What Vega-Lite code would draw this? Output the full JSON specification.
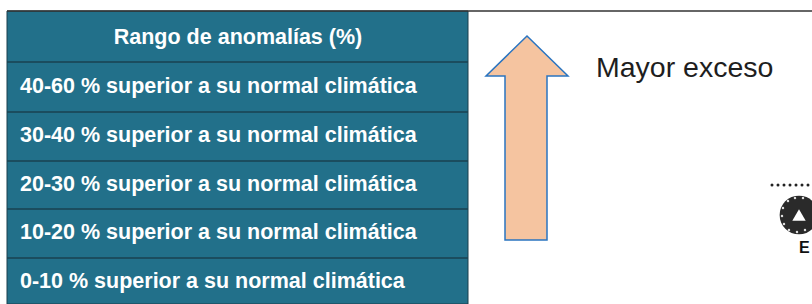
{
  "$schema": "https://vega.github.io/schema/vega-lite/v6.json",
  "width": 812,
  "height": 304,
  "autosize": {"type": "none"},
  "padding": 0,
  "background": "white",
  "view": {"stroke": null},
  "datasets": {
    "table": [{"x": 7, "x2": 468, "y": 11, "y2": 304}],
    "seps": [
      {"x": 7, "x2": 468, "y": 62},
      {"x": 7, "x2": 468, "y": 112},
      {"x": 7, "x2": 468, "y": 161},
      {"x": 7, "x2": 468, "y": 209},
      {"x": 7, "x2": 468, "y": 258}
    ],
    "border": [{"x": 7, "x2": 812, "y": 11}],
    "header": [{"x": 238, "y": 38, "label": "Rango de anomalías (%)"}],
    "rows": [
      {"x": 20, "y": 87, "label": "40-60 % superior a su normal climática"},
      {"x": 20, "y": 136, "label": "30-40 % superior a su normal climática"},
      {"x": 20, "y": 185, "label": "20-30 % superior a su normal climática"},
      {"x": 20, "y": 233, "label": "10-20 % superior a su normal climática"},
      {"x": 20, "y": 282, "label": "0-10 % superior a su normal climática"}
    ],
    "arrow": [
      {"y": 36, "x": 527, "x2": 527},
      {"y": 76, "x": 486, "x2": 568},
      {"y": 76, "x": 505, "x2": 547},
      {"y": 240, "x": 505, "x2": 547}
    ],
    "note": [{"x": 596, "y": 77, "label": "Mayor exceso"}],
    "dots": [
      {"x": 772, "y": 185}, {"x": 778, "y": 185}, {"x": 784, "y": 185},
      {"x": 790, "y": 185}, {"x": 796, "y": 185}, {"x": 802, "y": 185}, {"x": 808, "y": 185}
    ],
    "logo": [{"x": 799, "y": 215}],
    "ring": [
      {"x": 783, "y": 208}, {"x": 782, "y": 216}, {"x": 784, "y": 224}, {"x": 789, "y": 230},
      {"x": 797, "y": 232}, {"x": 805, "y": 230}, {"x": 788, "y": 201}, {"x": 795, "y": 198}, {"x": 803, "y": 198}
    ],
    "logoE": [{"x": 799, "y": 253, "label": "E"}]
  },
  "layer": [
    {
      "data": {"name": "table"},
      "mark": {"type": "rect", "fill": "#22708A", "stroke": "#1b3f4c", "strokeWidth": 1},
      "encoding": {
        "x": {"field": "x", "type": "quantitative", "scale": {"domain": [0, 812], "nice": false, "zero": false}, "axis": null},
        "x2": {"field": "x2"},
        "y": {"field": "y", "type": "quantitative", "scale": {"domain": [0, 304], "reverse": true, "nice": false, "zero": false}, "axis": null},
        "y2": {"field": "y2"}
      }
    },
    {
      "data": {"name": "seps"},
      "mark": {"type": "rule", "color": "#1a4250", "strokeWidth": 1.5},
      "encoding": {
        "x": {"field": "x", "type": "quantitative"},
        "x2": {"field": "x2"},
        "y": {"field": "y", "type": "quantitative"}
      }
    },
    {
      "data": {"name": "border"},
      "mark": {"type": "rule", "color": "#333333", "strokeWidth": 1.5},
      "encoding": {
        "x": {"field": "x", "type": "quantitative"},
        "x2": {"field": "x2"},
        "y": {"field": "y", "type": "quantitative"}
      }
    },
    {
      "data": {"name": "header"},
      "mark": {"type": "text", "align": "center", "baseline": "middle", "color": "white", "font": "Liberation Sans", "fontSize": 21.5, "fontWeight": "bold"},
      "encoding": {
        "x": {"field": "x", "type": "quantitative"},
        "y": {"field": "y", "type": "quantitative"},
        "text": {"field": "label"}
      }
    },
    {
      "data": {"name": "rows"},
      "mark": {"type": "text", "align": "left", "baseline": "middle", "color": "white", "font": "Liberation Sans", "fontSize": 21.5, "fontWeight": "bold"},
      "encoding": {
        "x": {"field": "x", "type": "quantitative"},
        "y": {"field": "y", "type": "quantitative"},
        "text": {"field": "label"}
      }
    },
    {
      "data": {"name": "arrow"},
      "mark": {"type": "area", "orient": "horizontal", "fill": "#F5C4A0", "stroke": "#2a74c0", "strokeWidth": 1.5, "fillOpacity": 1},
      "encoding": {
        "y": {"field": "y", "type": "quantitative"},
        "x": {"field": "x", "type": "quantitative"},
        "x2": {"field": "x2"}
      }
    },
    {
      "data": {"name": "note"},
      "mark": {"type": "text", "align": "left", "baseline": "alphabetic", "color": "#1e1e1e", "font": "Liberation Sans", "fontSize": 28.5},
      "encoding": {
        "x": {"field": "x", "type": "quantitative"},
        "y": {"field": "y", "type": "quantitative"},
        "text": {"field": "label"}
      }
    },
    {
      "data": {"name": "dots"},
      "mark": {"type": "circle", "color": "#222222", "size": 9, "opacity": 1},
      "encoding": {
        "x": {"field": "x", "type": "quantitative"},
        "y": {"field": "y", "type": "quantitative"}
      }
    },
    {
      "data": {"name": "logo"},
      "mark": {"type": "circle", "color": "#2a2a2a", "size": 1500, "opacity": 1},
      "encoding": {
        "x": {"field": "x", "type": "quantitative"},
        "y": {"field": "y", "type": "quantitative"}
      }
    },
    {
      "data": {"name": "ring"},
      "mark": {"type": "circle", "color": "#dddddd", "size": 6, "opacity": 1},
      "encoding": {
        "x": {"field": "x", "type": "quantitative"},
        "y": {"field": "y", "type": "quantitative"}
      }
    },
    {
      "data": {"name": "logo"},
      "mark": {"type": "point", "shape": "triangle-up", "color": "white", "filled": true, "size": 180, "opacity": 1},
      "encoding": {
        "x": {"field": "x", "type": "quantitative"},
        "y": {"field": "y", "type": "quantitative"}
      }
    },
    {
      "data": {"name": "logoE"},
      "mark": {"type": "text", "align": "left", "baseline": "alphabetic", "color": "#111111", "font": "Liberation Sans", "fontSize": 16, "fontWeight": "bold"},
      "encoding": {
        "x": {"field": "x", "type": "quantitative"},
        "y": {"field": "y", "type": "quantitative"},
        "text": {"field": "label"}
      }
    }
  ]
}
